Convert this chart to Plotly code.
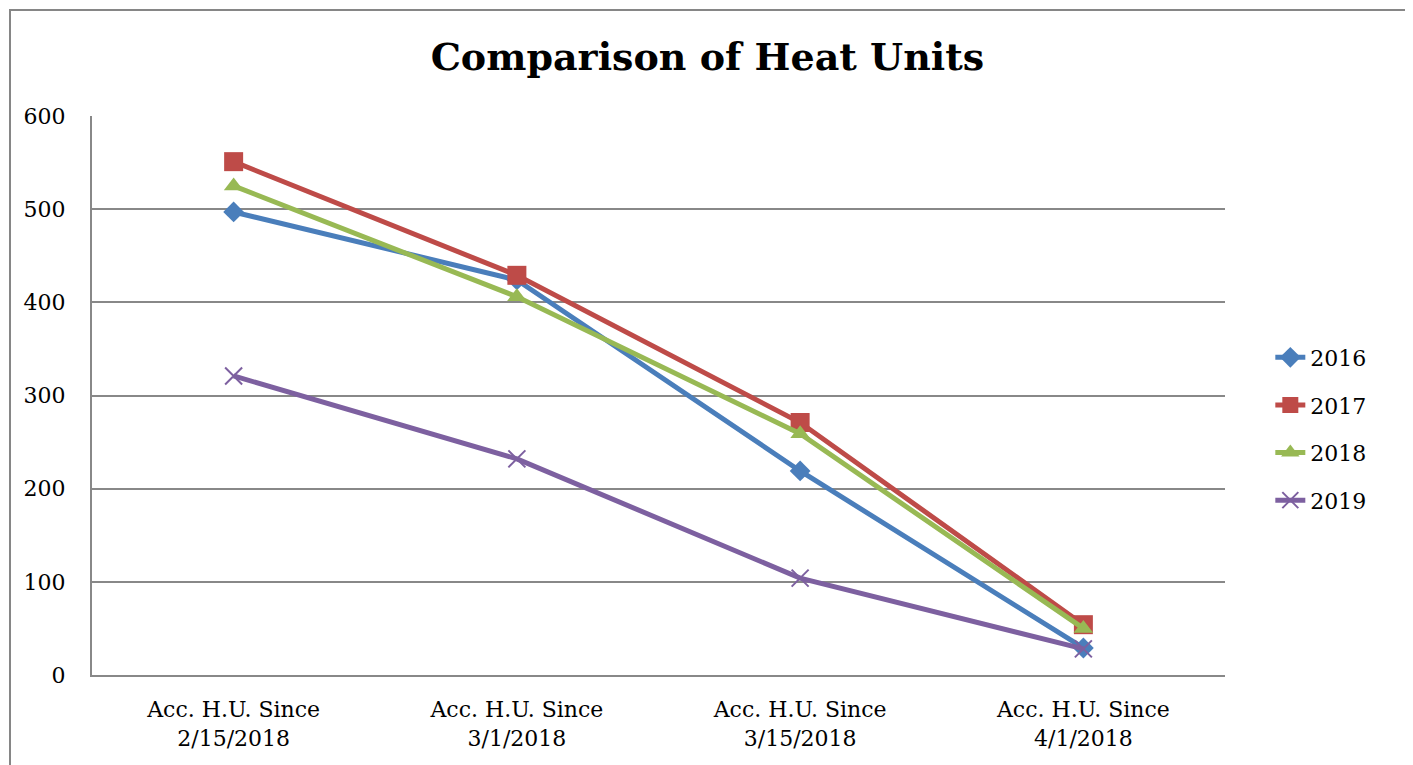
import plotly.graph_objects as go

categories = ["Acc. H.U. Since<br>2/15/2018", "Acc. H.U. Since<br>3/1/2018",
              "Acc. H.U. Since<br>3/15/2018", "Acc. H.U. Since<br>4/1/2018"]
series_names = ["2016", "2017", "2018", "2019"]
v2016 = [497, 424, 219, 29]
v2017 = [551, 429, 271, 54]
v2018 = [525, 406, 259, 50]
v2019 = [321, 232, 104, 28]
y_ticks = [0, 100, 200, 300, 400, 500, 600]

colors = ["#4A7EBB", "#BE4B48", "#98B954", "#7D60A0"]
symbols = ["diamond", "square", "triangle-up", "x-thin"]
sizes = [16, 19, 17, 17]
values = [v2016, v2017, v2018, v2019]

fig = go.Figure()
for name, vals, c, s, sz in zip(series_names, values, colors, symbols, sizes):
    marker = dict(symbol=s, size=sz, color=c)
    if s == "x-thin":
        marker["line"] = dict(color=c, width=2)
    fig.add_trace(go.Scatter(
        x=categories, y=vals, name=name, mode="lines+markers",
        line=dict(color=c, width=5), marker=marker, legendgroup=name,
    ))

serif = "DejaVu Serif"
fig.update_layout(
    width=1413, height=765,
    margin=dict(l=84, r=196, t=108, b=98),
    paper_bgcolor="white", plot_bgcolor="white",
    title=dict(text="<b>Comparison of Heat Units</b>", x=0.495,
               xanchor="center", y=1 - 49 / 765, yanchor="middle",
               font=dict(family=serif, size=38, color="black")),
    font=dict(family=serif, size=22, color="black"),
    showlegend=True,
    legend=dict(x=1.04, y=0.44, xanchor="left", yanchor="middle",
                font=dict(family=serif, size=22, color="black"),
                traceorder="grouped", tracegroupgap=16, bgcolor="rgba(0,0,0,0)"),
    xaxis=dict(type="category", range=[-0.5, 3.5], showgrid=False,
               showline=True, linecolor="#888888", linewidth=2,
               ticks="", ticklabelstandoff=14,
               tickfont=dict(family=serif, size=22, color="black")),
    yaxis=dict(range=[0, 600], tickvals=y_ticks, showgrid=True, gridcolor="#888888",
               gridwidth=1.5, showline=True, linecolor="#888888", linewidth=2,
               zeroline=False, ticks="", ticklabelstandoff=20,
               tickfont=dict(family=serif, size=22, color="black")),
    shapes=[dict(type="rect", xref="paper", yref="paper",
                 x0=(10 - 92) / 1133, x1=(1409 - 92) / 1133,
                 y0=-0.3, y1=(675 - 10) / 559,
                 line=dict(color="#868686", width=2), fillcolor="rgba(0,0,0,0)",
                 layer="below")],
)

fig.write_html("out.html")
